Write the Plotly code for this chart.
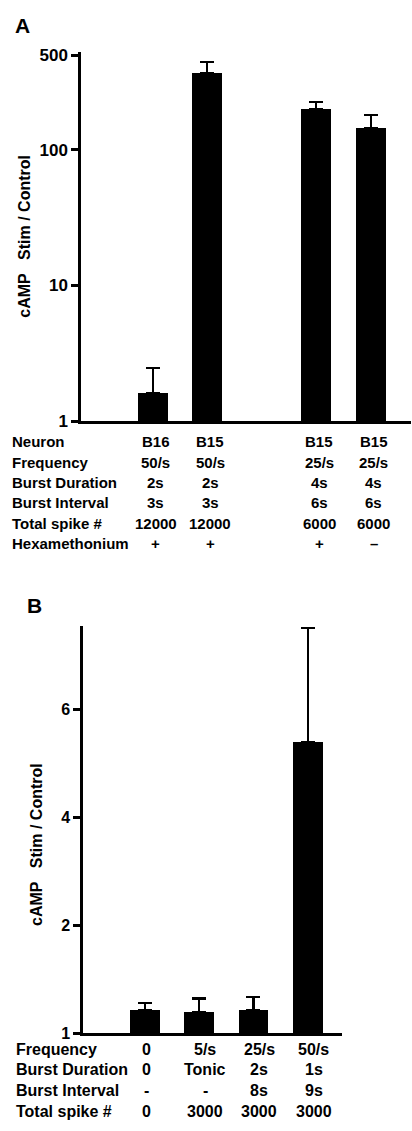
import plotly.graph_objects as go

# ---------------- Panel A data ----------------
a_conditions = ["B16 50/s hex+", "B15 50/s hex+", "B15 25/s hex+", "B15 25/s hex-"]
a_values = [1.60, 370, 199, 145]
a_sem = [0.87, 75, 28, 35]
a_neuron = ["B16", "B15", "B15", "B15"]
a_frequency = ["50/s", "50/s", "25/s", "25/s"]
a_burst_duration = ["2s", "2s", "4s", "4s"]
a_burst_interval = ["3s", "3s", "6s", "6s"]
a_total_spikes = ["12000", "12000", "6000", "6000"]
a_hexamethonium = ["+", "+", "+", "\u2013"]
a_row_labels = ["Neuron", "Frequency", "Burst Duration", "Burst Interval",
                "Total spike #", "Hexamethonium"]
a_tickvals = [1, 10, 100, 500]
a_ticktext = ["1", "10", "100", "500"]

# ---------------- Panel B data ----------------
b_conditions = ["0", "5/s tonic", "25/s", "50/s"]
b_values = [0.43, 0.40, 0.43, 5.39]
b_sem = [0.13, 0.245, 0.245, 2.12]
b_frequency = ["0", "5/s", "25/s", "50/s"]
b_burst_duration = ["0", "Tonic", "2s", "1s"]
b_burst_interval = ["-", "-", "8s", "9s"]
b_total_spikes = ["0", "3000", "3000", "3000"]
b_row_labels = ["Frequency", "Burst Duration", "Burst Interval", "Total spike #"]
b_tickvals = [0, 2, 4, 6]
b_ticktext = ["1", "2", "4", "6"]

W, H = 412, 1131
FONT = "Liberation Sans, Arial, Helvetica, sans-serif"


def px(x):
    return x / W


def py(y):
    return (H - y) / H


fig = go.Figure()

# Panel A bars (with a gap category between the 2nd and 3rd bars)
gap = " "
a_x = a_conditions[:2] + [gap] + a_conditions[2:]
a_y = a_values[:2] + [None] + a_values[2:]
a_e = a_sem[:2] + [0] + a_sem[2:]
fig.add_trace(go.Bar(
    x=a_x, y=a_y, xaxis="x", yaxis="y",
    marker=dict(color="black", line=dict(width=0)),
    width=0.55,
    error_y=dict(type="data", array=a_e, arrayminus=[0] * len(a_e),
                 symmetric=False, color="black", thickness=2.2, width=7),
    showlegend=False, hoverinfo="skip",
))

fig.add_trace(go.Bar(
    x=b_conditions, y=b_values, xaxis="x2", yaxis="y2",
    marker=dict(color="black", line=dict(width=0)),
    width=0.55,
    error_y=dict(type="data", array=b_sem, arrayminus=[0] * len(b_sem),
                 symmetric=False, color="black", thickness=2.2, width=7),
    showlegend=False, hoverinfo="skip",
))

axis_common = dict(showgrid=False, zeroline=False, showline=True,
                   linecolor="black", linewidth=2.5)

fig.update_layout(
    width=W, height=H, autosize=False,
    margin=dict(l=0, r=0, t=0, b=0),
    paper_bgcolor="white", plot_bgcolor="white",
    font=dict(family=FONT, color="black"),
    bargap=0,
    xaxis=dict(domain=[px(81), px(411)], anchor="y", type="category",
               categoryorder="array", categoryarray=a_x,
               range=[-1.32, 4.74], showticklabels=False, ticks="",
               fixedrange=True, **axis_common),
    yaxis=dict(domain=[py(421), py(47)], anchor="x", type="log",
               range=[0, 2.72], tickvals=a_tickvals, ticktext=a_ticktext,
               ticks="outside", ticklen=7, tickwidth=2.5, tickcolor="black",
               tickfont=dict(size=17, family=FONT, weight="bold"),
               fixedrange=True, **axis_common),
    xaxis2=dict(domain=[px(83), px(342)], anchor="y2", type="category",
                categoryorder="array", categoryarray=b_conditions,
                range=[-1.14, 3.63], showticklabels=False, ticks="",
                fixedrange=True, **axis_common),
    yaxis2=dict(domain=[py(1042), py(629)], anchor="x2",
                range=[0, 7.54], tickvals=b_tickvals, ticktext=b_ticktext,
                ticks="outside", ticklen=7, tickwidth=2.5, tickcolor="black",
                tickfont=dict(size=16, family=FONT, weight="bold"),
                fixedrange=True, **axis_common),
)

ann = []


def text(x, y, s, size, xref="paper", xanchor="center", angle=0, xshift=0):
    ann.append(dict(x=x, y=y, xref=xref, yref="paper", text=s,
                    showarrow=False, xanchor=xanchor, yanchor="middle",
                    textangle=angle, xshift=xshift,
                    font=dict(size=size, family=FONT, weight="bold",
                              color="black")))


# Panel letters
text(px(22), py(20), "A", 21)
text(px(34), py(608), "B", 21)

# Y-axis titles
ytitle = "cAMP\u00a0\u00a0\u00a0Stim / Control"
text(px(25), py(234), ytitle, 16, angle=-90)
text(px(37), py(851), ytitle, 16, angle=-90)

# Panel A table
a_rows = [a_neuron, a_frequency, a_burst_duration, a_burst_interval,
          a_total_spikes, a_hexamethonium]
for i, (label, row) in enumerate(zip(a_row_labels, a_rows)):
    yy = py(442 + 20.7 * i)
    text(px(10), yy, label, 15, xanchor="left")
    for cat, val in zip(a_conditions, row):
        text(cat, yy, val, 15, xref="x", xshift=3)

# Panel B table
b_rows = [b_frequency, b_burst_duration, b_burst_interval, b_total_spikes]
for i, (label, row) in enumerate(zip(b_row_labels, b_rows)):
    yy = py(1058 + 21 * i)
    text(px(14), yy, label, 16, xanchor="left")
    for j, (cat, val) in enumerate(zip(b_conditions, row)):
        text(cat, yy, val, 16, xref="x2", xshift=2 if j == 0 else 6)

fig.update_layout(annotations=ann)

fig.write_html("out.html", config={"displayModeBar": False},
               post_script="document.body.style.margin='0';")
